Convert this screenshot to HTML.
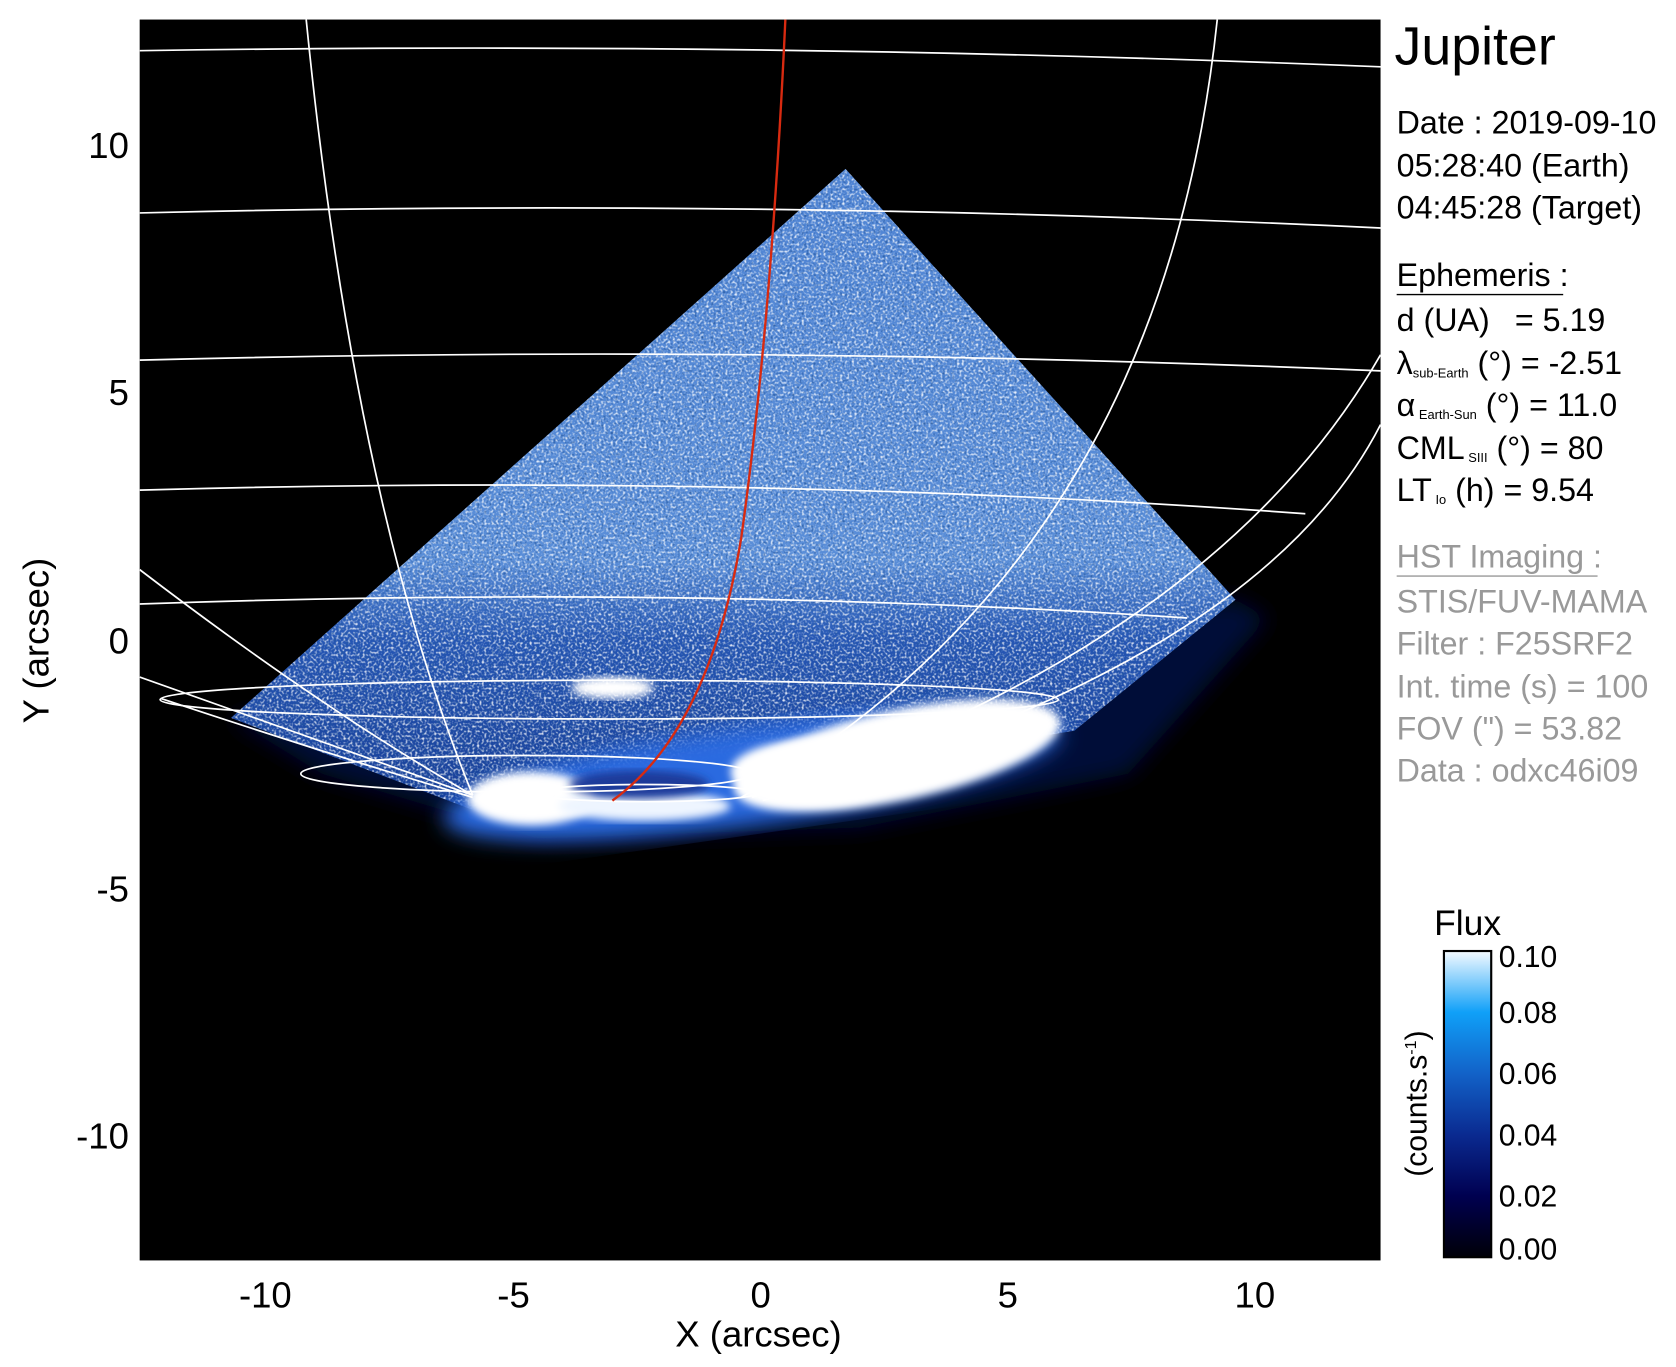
<!DOCTYPE html>
<html><head><meta charset="utf-8"><style>
html,body{margin:0;padding:0;background:#fff;}
svg{display:block;font-family:"Liberation Sans",sans-serif;}
</style></head><body>
<svg width="1676" height="1367" viewBox="0 0 1560 1272" xmlns="http://www.w3.org/2000/svg">
<defs>
<clipPath id="plot"><rect x="130" y="18" width="1155" height="1155"/></clipPath>
<clipPath id="tri"><polygon points="787,157 1150,558 1000,680 720,725 470,765 215,668"/></clipPath>
<linearGradient id="tg" x1="0" y1="0" x2="0" y2="1">
<stop offset="0" stop-color="#4f84d4"/>
<stop offset="0.6" stop-color="#5a8ed8"/>
<stop offset="0.72" stop-color="#2556b4"/>
<stop offset="1" stop-color="#163c94"/>
</linearGradient>
<linearGradient id="cb" x1="0" y1="1" x2="0" y2="0">
<stop offset="0" stop-color="#000008"/>
<stop offset="0.2" stop-color="#000050"/>
<stop offset="0.4" stop-color="#0a2a90"/>
<stop offset="0.6" stop-color="#1262c8"/>
<stop offset="0.8" stop-color="#10a0f8"/>
<stop offset="1" stop-color="#f4faff"/>
</linearGradient>
<filter id="noise" x="0" y="0" width="1" height="1">
<feTurbulence type="fractalNoise" baseFrequency="0.45" numOctaves="1" seed="3"/>
<feColorMatrix type="matrix" values="0 0 0 0 1  0 0 0 0 1  0 0 0 0 1  0 0 0 3.2 -1.5"/>
</filter>
<filter id="noise2" x="0" y="0" width="1" height="1">
<feTurbulence type="fractalNoise" baseFrequency="0.45" numOctaves="1" seed="9"/>
<feColorMatrix type="matrix" values="0 0 0 0 0.02  0 0 0 0 0.1  0 0 0 0 0.35  0 0 0 3 -1.6"/>
</filter>
<filter id="blur"><feGaussianBlur stdDeviation="10"/></filter>
<filter id="blur2"><feGaussianBlur stdDeviation="4"/></filter>
</defs>
<rect x="130" y="18" width="1155" height="1155" fill="#000"/>
<g clip-path="url(#plot)">
<polygon points="1150,558 1180,575 1050,720 800,770 500,780 300,720 215,668" fill="#051038" filter="url(#blur)"/>
<polygon points="787,157 1150,558 1000,680 720,725 470,765 215,668" fill="url(#tg)"/>
<rect x="200" y="150" width="960" height="620" filter="url(#noise)" clip-path="url(#tri)" opacity="0.85"/>
<rect x="200" y="150" width="960" height="620" filter="url(#noise2)" clip-path="url(#tri)"/>
<ellipse cx="700" cy="722" rx="290" ry="45" fill="#2a6ae0" filter="url(#blur)" transform="rotate(-8 700 722)"/>
<ellipse cx="835" cy="703" rx="155" ry="42" fill="#fff" filter="url(#blur2)" transform="rotate(-12 835 703)"/>
<ellipse cx="760" cy="718" rx="80" ry="30" fill="#fff" filter="url(#blur2)"/>
<ellipse cx="495" cy="743" rx="60" ry="25" fill="#fff" filter="url(#blur2)"/>
<ellipse cx="600" cy="750" rx="80" ry="14" fill="#eef5ff" filter="url(#blur2)"/>
<ellipse cx="595" cy="730" rx="65" ry="13" fill="#1a3a9a" filter="url(#blur2)"/>
<ellipse cx="570" cy="640" rx="38" ry="10" fill="#fff" filter="url(#blur2)"/>
<g fill="none" stroke="#fff" stroke-width="1.6">
<path d="M130,47 Q700,38 1285,62"/>
<path d="M130,198 Q700,184 1285,212"/>
<path d="M130,335 Q700,320 1285,345"/>
<path d="M130,456 Q700,440 1215,478"/>
<path d="M130,562 Q640,544 1105,575"/>
<ellipse cx="567" cy="651" rx="418" ry="18"/>
<ellipse cx="490" cy="720" rx="210" ry="17"/>
<ellipse cx="600" cy="738" rx="105" ry="8"/>
<path d="M285,18 Q330,470 440,740"/>
<path d="M130,530 Q300,660 440,740"/>
<path d="M130,630 Q300,690 440,740"/>
<path d="M150,650 Q300,700 440,742"/>
<path d="M1133,18 Q1080,520 690,742"/>
<path d="M1285,330 Q1130,600 700,742"/>
<path d="M1285,395 Q1170,620 710,745"/>
</g>
<path d="M731,18 Q718,300 690,500 Q660,680 570,745" fill="none" stroke="#d82a10" stroke-width="2.2"/>
</g>
<g font-size="34" fill="#000" text-anchor="middle">
<text x="247" y="1217">-10</text>
<text x="478" y="1217">-5</text>
<text x="708" y="1217">0</text>
<text x="938" y="1217">5</text>
<text x="1168" y="1217">10</text>
<text x="706" y="1253">X (arcsec)</text>
</g>
<g font-size="34" fill="#000" text-anchor="end">
<text x="120" y="147">10</text>
<text x="120" y="377">5</text>
<text x="120" y="608">0</text>
<text x="120" y="839">-5</text>
<text x="120" y="1069">-10</text>
</g>
<text x="0" y="0" font-size="34" text-anchor="middle" transform="translate(45,596) rotate(-90)">Y (arcsec)</text>
<text x="1298" y="60" font-size="50">Jupiter</text>
<g font-size="30" fill="#000">
<text x="1300" y="124">Date : 2019-09-10</text>
<text x="1300" y="164">05:28:40 (Earth)</text>
<text x="1300" y="203">04:45:28 (Target)</text>
<text x="1300" y="266">Ephemeris :</text>
<text x="1300" y="308">d (UA)</text><text x="1410" y="308">= 5.19</text>
<text x="1300" y="348">λ<tspan font-size="12" dy="3">sub-Earth</tspan><tspan dy="-3"> (°) = -2.51</tspan></text>
<text x="1300" y="387">α<tspan font-size="12" dy="3"> Earth-Sun</tspan><tspan dy="-3"> (°) = 11.0</tspan></text>
<text x="1300" y="427">CML<tspan font-size="12" dy="3"> SIII</tspan><tspan dy="-3"> (°) = 80</tspan></text>
<text x="1300" y="466">LT<tspan font-size="12" dy="3"> Io</tspan><tspan dy="-3"> (h) = 9.54</tspan></text>
</g>
<line x1="1300" y1="274" x2="1455" y2="274" stroke="#000" stroke-width="1.2"/>
<g font-size="30" fill="#999">
<text x="1300" y="528">HST Imaging :</text>
<text x="1300" y="570">STIS/FUV-MAMA</text>
<text x="1300" y="609">Filter : F25SRF2</text>
<text x="1300" y="649">Int. time (s) = 100</text>
<text x="1300" y="688">FOV (") = 53.82</text>
<text x="1300" y="727">Data : odxc46i09</text>
</g>
<line x1="1300" y1="536" x2="1487" y2="536" stroke="#999" stroke-width="1.2"/>
<text x="1366" y="870" font-size="33" text-anchor="middle">Flux</text>
<rect x="1344" y="885" width="44" height="285" fill="url(#cb)" stroke="#000" stroke-width="2"/>
<g font-size="28" fill="#000">
<text x="1395" y="900">0.10</text>
<text x="1395" y="952">0.08</text>
<text x="1395" y="1009">0.06</text>
<text x="1395" y="1066">0.04</text>
<text x="1395" y="1123">0.02</text>
<text x="1395" y="1172">0.00</text>
</g>
<text x="0" y="0" font-size="28" text-anchor="middle" transform="translate(1328,1027) rotate(-90)">(counts.s<tspan font-size="15" dy="-10">-1</tspan><tspan dy="10">)</tspan></text>
</svg>
</body></html>
